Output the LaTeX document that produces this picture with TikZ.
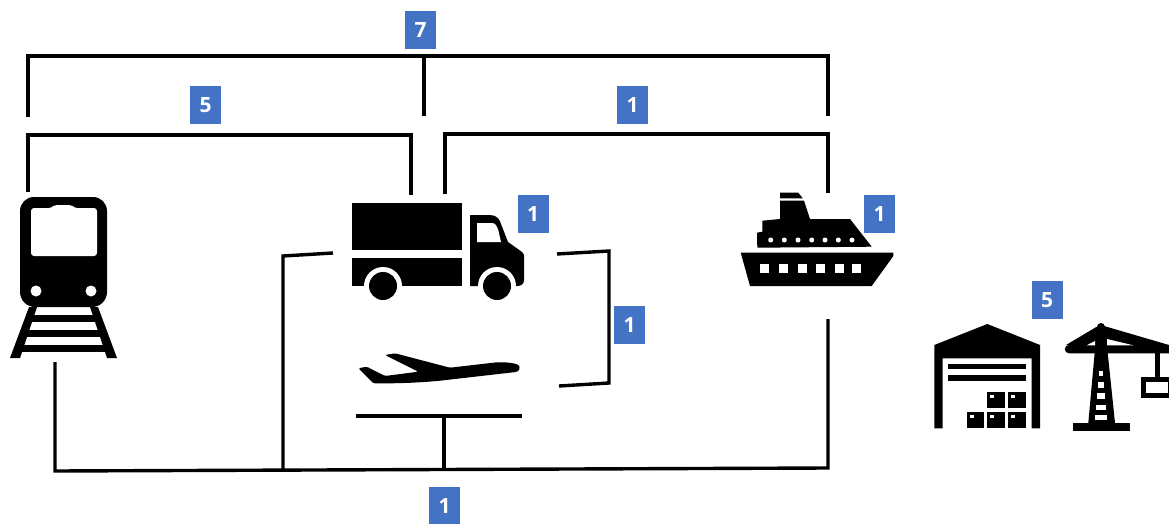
\documentclass[tikz,border=0pt]{standalone}
\usepackage{fontspec}
\setmainfont{Open Sans}
\usepackage{xcolor}
\definecolor{badgeblue}{HTML}{4472C4}

\begin{document}
\begin{tikzpicture}[
        x=1pt, y=-1pt,
        % Styles for the connectors and the numbered boxes
        wire/.style={line width=3.4pt, draw=black, line cap=butt, line join=miter},
        badge/.style={rectangle, fill=badgeblue, text=white, minimum width=31pt, minimum height=38pt, inner sep=0pt, font=\fontsize{21}{21}\selectfont\bfseries},
        % Styles for the icons
        icon/.style={fill=black, draw=none},
        hole/.style={fill=white, draw=none}
    ]
    \useasboundingbox (0,0) rectangle (1169,524);

    % --- FREE ENDS OF THE CONNECTORS ---
    \coordinate (AllL) at (28,117);
    \coordinate (AllM) at (424,116);
    \coordinate (AllR) at (828,116);
    \coordinate (TopM) at (424,56);
    \coordinate (RailL) at (28,192);
    \coordinate (RailR) at (411,195);
    \coordinate (SeaL) at (445,194);
    \coordinate (SeaR) at (828,193);
    \coordinate (PairA) at (557,254);
    \coordinate (PairB) at (559,386);
    \coordinate (TruckL) at (333,253);
    \coordinate (TrainB) at (55,362);
    \coordinate (ShipB) at (828,319);
    \coordinate (BusT) at (283,470.2);
    \coordinate (BusM) at (444,469.6);
    \coordinate (BarL) at (356,416);
    \coordinate (BarR) at (522,416);
    \coordinate (BarM) at (444,416);

    % --- TOP BRACKETS ---
    \draw[wire] (AllL) -- (28,56) -- (828,56) -- (AllR);
    \draw[wire] (TopM) -- (AllM);
    \draw[wire] (RailL) -- (28,135) -- (411,135) -- (RailR);
    \draw[wire] (SeaL) -- (445,134) -- (828,134) -- (SeaR);

    % --- INNER BRACKETS ---
    \draw[wire] (PairA) -- (609,251) -- (609,383) -- (PairB);
    \draw[wire] (TruckL) -- (283,256) -- (BusT);
    \draw[wire] (TrainB) -- (55,471) -- (828,468) -- (ShipB);
    \draw[wire] (BarL) -- (BarR);
    \draw[wire] (BarM) -- (BusM);

    % --- TRAIN ---
    \fill[icon] (20,211) arc[start angle=180, end angle=270, radius=14] -- (93,197) arc[start angle=270, end angle=360, radius=14] -- (107,292) arc[start angle=0, end angle=90, radius=15] -- (35,307) arc[start angle=90, end angle=180, radius=15] -- cycle;
    \fill[hole, rounded corners=3pt] (31,208) -- (52,208) -- (54,205) -- (72,205) -- (74,208) -- (97,208) -- (97,256) -- (31,256) -- cycle;
    \foreach \x in {36,91} {
        \fill[hole] (\x,291) circle[radius=5.5];
    }
    \fill[icon] (29,307) -- (37,307) -- (20,358) -- (10,358) -- cycle;
    \fill[icon] (98,307) -- (90,307) -- (107,358) -- (117,358) -- cycle;
    \foreach \y/\a in {315/30, 330/24, 345/18} {
        \fill[icon] (\a,\y) rectangle (117-\a+10,\y+7);
    }

    % --- TRUCK ---
    \fill[icon] (352,203) rectangle (462,250);
    \fill[icon] (352,258) rectangle (462,286);
    \fill[icon] (470,215) -- (490,215) .. controls (497,215) and (500,220) .. (501,224) -- (508,242) -- (522,252) .. controls (524,254) and (524,255) .. (524,257) -- (524,280) .. controls (524,284) and (521,286) .. (517,286) -- (470,286) -- cycle;
    \fill[hole] (477,223) -- (492,223) .. controls (495,223) and (497,226) .. (498,229) -- (501,242) -- (477,242) -- cycle;
    \foreach \x in {383,497} {
        \fill[hole] (\x,286) circle[radius=19];
        \fill[icon] (\x,286) circle[radius=14];
    }

    % --- PLANE ---
    \fill[icon, rounded corners=1.5pt] (358.3,368.3) -- (366.7,366.7) -- (385,376) -- (418.3,371.7) -- (385,355) -- (395,353.3) -- (450,367.7) -- (496.7,362.3) .. controls (510,362) and (520,364) .. (519.3,368.3) .. controls (519,371) and (516,372) .. (513.3,372.3) -- (440,380.7) .. controls (415,383) and (395,383.5) .. (373.3,383.3) -- cycle;

    % --- SHIP ---
    \fill[icon] (780,192.7) -- (798.3,192.7) -- (802.7,198.3) -- (780,198.3) -- cycle;
    \fill[icon] (780,200.7) -- (804,200.7) -- (810,219) -- (850,219) -- (871.7,246.7) -- (757.3,247.7) -- (757,232.7) -- (762.3,231.7) -- (762.3,220.7) -- (780,219) -- cycle;
    \foreach \x in {770.7,784.3,798,811.7,825,838.3,852} {
        \fill[hole] (\x,240) circle[radius=2.5];
    }
    \fill[icon] (740.7,252.7) -- (893.3,252.7) -- (893.3,256) -- (871.7,286) -- (750,286) -- cycle;
    \foreach \x in {764.7,783.3,802,820.7,839.3,856.7} {
        \fill[hole] (\x-4.5,264) rectangle (\x+4.5,273.3);
    }

    % --- WAREHOUSE ---
    \fill[icon] (987.3,324) -- (1040,345) -- (1040,428.3) -- (1031.7,428.3) -- (1031.7,358.3) -- (942.7,358.3) -- (942.7,428.3) -- (934.3,428.3) -- (934.3,345) -- cycle;
    \fill[icon] (948.3,364.3) rectangle (1026,369.3);
    \fill[icon] (948.3,375.3) rectangle (1026,380.7);
    \foreach \x/\y in {987.3/391.7, 1008.3/391.7, 966.7/411.7, 987.3/411.7, 1008.3/411.7} {
        \fill[icon] (\x,\y) rectangle (\x+17.7,\y+16.7);
        \fill[hole] (\x+3,\y+3.5) rectangle (\x+7,\y+6);
    }

    % --- CRANE ---
    \fill[icon] (1072.7,422.7) rectangle (1129.7,430.7);
    \fill[icon] (1097,327) arc[start angle=180, end angle=360, radius=4] -- (1115,423) -- (1088.3,423) -- cycle;
    \fill[icon] (1066,345) -- (1098,326) -- (1104,326) -- (1169,345) -- (1169,353.3) -- (1069,353.3) arc[start angle=90, end angle=270, radius=4.2] -- cycle;
    \fill[hole] (1095,341) -- (1095,345.3) -- (1086.7,345.3) -- cycle;
    \fill[hole] (1107,339) -- (1107,345.3) -- (1133.3,345.3) -- cycle;
    \foreach \y/\w in {373.3/1.7, 385/2.7, 396/3.7, 407.3/4.7, 417.3/6.3} {
        \fill[hole] (1101-\w,\y-2.7) rectangle (1101+\w,\y+2.7);
    }
    \fill[icon] (1155,353) rectangle (1160,377);
    \fill[icon] (1140.7,376.7) rectangle (1169,398.3);
    \fill[hole] (1146,382.3) rectangle (1167.7,392.7);

    % --- NUMBERED BOXES ---
    \foreach \x/\y/\n/\t in {420.5/30/SevenB/7, 205.5/105/FiveB/5, 632.5/105/SeaB/1, 533/214/TruckB/1, 879.5/214/ShipBox/1, 629.5/325/PairBox/1, 1047/300/PortB/5, 444.5/505.5/BusB/1} {
        \node[badge] (\n) at (\x,\y) {\t};
    }
\end{tikzpicture}
\end{document}
